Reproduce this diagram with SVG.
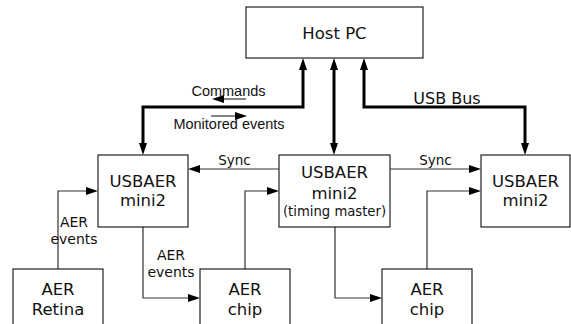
<svg xmlns="http://www.w3.org/2000/svg" width="571" height="324" viewBox="0 0 571 324">
<defs>
<style>
.box{fill:#fff;stroke:#222;stroke-width:1.2}
.t{font-family:"DejaVu Sans",sans-serif;font-size:16.5px;fill:#111;text-anchor:middle}
.s{font-family:"DejaVu Sans",sans-serif;font-size:14px;fill:#111;text-anchor:middle}
.a{font-family:"Liberation Sans",Arial,sans-serif;font-size:14.5px;fill:#111;text-anchor:middle}
.thick{fill:none;stroke:#000;stroke-width:3;marker-start:url(#ah);marker-end:url(#ah)}
.thin{fill:none;stroke:#333;stroke-width:1.2;marker-end:url(#ah)}
</style>
<marker id="ah" markerUnits="userSpaceOnUse" markerWidth="12" markerHeight="8" refX="2" refY="4" orient="auto-start-reverse">
<path d="M0,0 L12,4 L0,8 z" fill="#000"/>
</marker>
</defs>
<g id="connectors">
<path class="thick" d="M143,145 V107 H303 V68"/>
<path class="thick" d="M334,68 V145"/>
<path class="thick" d="M364,68 V107 H525 V145"/>
<path class="thin" d="M58,269 V191 H88"/>
<path class="thin" d="M143,227 V298 H190"/>
<path class="thin" d="M245,269 V191 H269"/>
<path class="thin" d="M279,169 H198"/>
<path class="thin" d="M335,227 V298 H372"/>
<path class="thin" d="M427,269 V191 H471"/>
<path class="thin" d="M390,169 H471"/>
<path class="thin" d="M246,99 H222"/>
<path class="thin" d="M211,116 H237"/>
<text class="a" x="228.5" y="96">Commands</text>
<text class="a" x="229" y="129">Monitored events</text>
<text class="t" x="447" y="104" style="font-size:16px">USB Bus</text>
<text class="s" x="234.5" y="165" style="font-size:13.5px">Sync</text>
<text class="s" x="435.5" y="165" style="font-size:13.5px">Sync</text>
<text class="s" x="74" y="227">AER</text>
<text class="s" x="74" y="244">events</text>
<text class="s" x="171" y="260">AER</text>
<text class="s" x="171" y="277">events</text>
</g>
<g id="host">
<rect class="box" x="246" y="7" width="177" height="51"/>
<text class="t" x="334.5" y="39">Host PC</text>
</g>
<g id="usb1">
<rect class="box" x="98" y="155" width="90" height="72"/>
<text class="t" x="143" y="187">USBAER</text>
<text class="t" x="143" y="206">mini2</text>
</g>
<g id="usb2">
<rect class="box" x="279" y="155" width="111" height="72"/>
<text class="t" x="334.5" y="178">USBAER</text>
<text class="t" x="334.5" y="199">mini2</text>
<text class="t" x="334.5" y="216" style="font-size:13.2px">(timing master)</text>
</g>
<g id="usb3">
<rect class="box" x="481" y="155" width="89" height="72"/>
<text class="t" x="525.5" y="187">USBAER</text>
<text class="t" x="525.5" y="206">mini2</text>
</g>
<g id="retina">
<rect class="box" x="13" y="269" width="90" height="60"/>
<text class="t" x="58" y="295">AER</text>
<text class="t" x="58" y="315">Retina</text>
</g>
<g id="chip1">
<rect class="box" x="200" y="269" width="90" height="60"/>
<text class="t" x="245" y="295">AER</text>
<text class="t" x="245" y="315">chip</text>
</g>
<g id="chip2">
<rect class="box" x="382" y="269" width="90" height="60"/>
<text class="t" x="427" y="295">AER</text>
<text class="t" x="427" y="315">chip</text>
</g>
</svg>
